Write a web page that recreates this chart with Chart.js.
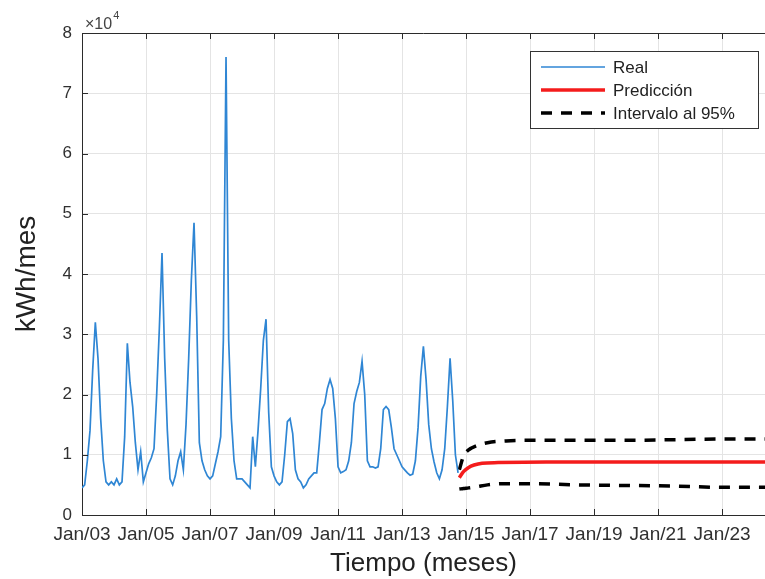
<!DOCTYPE html>
<html>
<head>
<meta charset="utf-8">
<title>Consumo kWh/mes</title>
<script src="https://cdn.jsdelivr.net/npm/chart.js@4.4.0/dist/chart.umd.min.js"></script>
<style>
    html, body { margin: 0; padding: 0; background: #fff; }
    #wrap { width: 765px; height: 579px; }
</style>
</head>
<body>
<div id="wrap"><canvas id="energyChart" width="765" height="579"></canvas></div>
<script>
// monthly consumption, first value = Jan 2003
const startYear = 2003;
const realKwh = [
    4500, 5000, 9000, 14000, 24000, 32000, 26000, 16000, 9000, 5500, 5000, 5500,
    5000, 6000, 5000, 5500, 13000, 28500, 22000, 18000, 12000, 7500, 10500, 5500,
    7000, 8500, 9500, 11000, 20000, 31000, 43500, 26000, 14000, 6000, 5000, 6500,
    9000, 10500, 7500, 15000, 26000, 39000, 48500, 33000, 12000, 9000, 7500, 6500,
    6000, 6500, 8500, 10500, 13000, 29000, 76000, 29000, 16000, 9000, 6000, 6000,
    6000, 5500, 5000, 4500, 13000, 8000, 14000, 21000, 29000, 32500, 17000, 8000,
    6500, 5500, 5000, 5500, 10000, 15500, 16000, 13500, 7500, 6000, 5500, 4500,
    5000, 6000, 6500, 7000, 7000, 12000, 17500, 18500, 21000, 22500, 21000, 16000,
    8000, 7000, 7200, 7500, 9000, 12000, 18500, 20500, 22000, 25500, 20000, 9000,
    8000, 8000, 7800, 8000, 11000, 17500, 18000, 17500, 14500, 11000, 10000, 9000,
    8000, 7500, 7000, 6600, 6800, 9000, 14500, 23000, 28000, 22500, 15000, 11000,
    8800, 7000, 6000, 7500, 11000, 18000, 26000, 19000, 10000, 7000
];

// forecast (x in years)
const predYears = [2014.79, 2014.92, 2015.08, 2015.25, 2015.5, 2016.0, 2017.5, 2019.5, 2021.5, 2023.5, 2024.4];
const predKwh   = [6200, 7200, 7900, 8300, 8600, 8700, 8800, 8800, 8800, 8800, 8800];

const bandYears = [2014.79, 2014.92, 2015.08, 2015.33, 2015.67, 2016.25, 2017.0, 2018.5, 2020.0, 2021.5, 2023.0, 2024.4];
const upperKwh  = [7500, 9800, 10800, 11500, 12000, 12300, 12400, 12400, 12400, 12500, 12600, 12600];
const lowerKwh  = [4300, 4400, 4500, 4700, 5000, 5200, 5200, 5000, 4900, 4800, 4600, 4600];

const xTickYears = [2003, 2005, 2007, 2009, 2011, 2013, 2015, 2017, 2019, 2021, 2023];
const yTickValues = [0, 10000, 20000, 30000, 40000, 50000, 60000, 70000, 80000];

Chart.defaults.font.family = "'Liberation Sans', Arial, sans-serif";

function pts(xs, ys) {
    return ys.map((v, i) => ({ x: xs[i], y: v }));
}

const axisColor = '#2b2b2b';

// box on top, inward ticks, x10^4 and the legend
const matlabFrame = {
    id: 'matlabFrame',
    afterDatasetsDraw(chart) {
        const ctx = chart.ctx;
        const a = chart.chartArea;
        const xs = chart.scales.x, ys = chart.scales.y;
        ctx.save();
        ctx.strokeStyle = axisColor;
        ctx.lineWidth = 1;
        ctx.beginPath();
        ctx.moveTo(a.left, a.top + 0.5);
        ctx.lineTo(a.right, a.top + 0.5);
        for (const t of xs.ticks) {
            const px = Math.round(xs.getPixelForValue(t.value)) + 0.5;
            ctx.moveTo(px, a.bottom); ctx.lineTo(px, a.bottom - 6);
            ctx.moveTo(px, a.top); ctx.lineTo(px, a.top + 6);
        }
        for (const t of ys.ticks) {
            const py = Math.round(ys.getPixelForValue(t.value)) + 0.5;
            ctx.moveTo(a.left, py); ctx.lineTo(a.left + 6, py);
        }
        ctx.stroke();

        // exponent
        ctx.fillStyle = '#444';
        ctx.textBaseline = 'alphabetic';
        ctx.font = "16px 'Liberation Sans', Arial, sans-serif";
        ctx.fillText('\u00d710', a.left + 3, a.top - 4);
        const w = ctx.measureText('\u00d710').width;
        ctx.font = "11px 'Liberation Sans', Arial, sans-serif";
        ctx.fillText('4', a.left + 4 + w, a.top - 14);

        // legend
        const bx = 530, by = 51, bw = 228, bh = 77;
        ctx.fillStyle = '#fff';
        ctx.fillRect(bx, by, bw, bh);
        ctx.strokeStyle = '#333';
        ctx.strokeRect(bx + 0.5, by + 0.5, bw, bh);
        const rows = [0, 1, 2];
        ctx.font = "17px 'Liberation Sans', Arial, sans-serif";
        ctx.textBaseline = 'middle';
        rows.forEach((di, r) => {
            const ds = chart.data.datasets[di];
            const y = by + 16 + r * 23;
            ctx.strokeStyle = ds.borderColor;
            ctx.lineWidth = ds.borderWidth;
            ctx.setLineDash(ds.borderDash || []);
            ctx.beginPath();
            ctx.moveTo(bx + 11, y);
            ctx.lineTo(bx + 75, y);
            ctx.stroke();
            ctx.setLineDash([]);
            ctx.fillStyle = '#222';
            ctx.fillText(ds.label, bx + 83, y + 1);
        });
        ctx.restore();
    }
};

const ctx = document.getElementById('energyChart').getContext('2d');
new Chart(ctx, {
    type: 'line',
    data: {
        datasets: [
            {
                label: 'Real',
                data: realKwh.map((v, i) => ({ x: startYear + i / 12, y: v })),
                borderColor: '#2f86d4',
                borderWidth: 1.7,
                pointRadius: 0,
                tension: 0
            },
            {
                label: 'Predicción',
                data: pts(predYears, predKwh),
                borderColor: '#f41c1c',
                borderWidth: 3.5,
                pointRadius: 0,
                cubicInterpolationMode: 'monotone'
            },
            {
                label: 'Intervalo al 95%',
                data: pts(bandYears, upperKwh),
                borderColor: '#000',
                borderWidth: 3.5,
                borderDash: [11, 9],
                pointRadius: 0,
                cubicInterpolationMode: 'monotone'
            },
            {
                label: 'Intervalo al 95% (inf)',
                data: pts(bandYears, lowerKwh),
                borderColor: '#000',
                borderWidth: 3.5,
                borderDash: [11, 9],
                pointRadius: 0,
                cubicInterpolationMode: 'monotone'
            }
        ]
    },
    options: {
        responsive: false,
        animation: false,
        events: [],
        layout: { padding: { top: 33, right: 0, bottom: 0, left: 0 } },
        plugins: { legend: { display: false }, tooltip: { enabled: false } },
        scales: {
            x: {
                type: 'linear',
                min: 2003,
                max: 2024.34,
                afterBuildTicks: axis => { axis.ticks = xTickYears.map(v => ({ value: v })); },
                afterFit: axis => { axis.height = 64; },
                ticks: {
                    callback: v => 'Jan/' + String(v % 100).padStart(2, '0'),
                    autoSkip: false,
                    maxRotation: 0,
                    padding: 8,
                    color: '#303030',
                    font: { size: 19 }
                },
                grid: { color: '#e4e4e4', drawTicks: false },
                border: { display: true, color: axisColor, width: 1 },
                title: {
                    display: true,
                    text: 'Tiempo (meses)',
                    color: '#222',
                    font: { size: 26 },
                    padding: { top: 0, bottom: 0 }
                }
            },
            y: {
                min: 0,
                max: 80000,
                afterBuildTicks: axis => { axis.ticks = yTickValues.map(v => ({ value: v })); },
                afterFit: axis => { axis.width = 82; },
                ticks: {
                    callback: v => v / 10000,
                    padding: 10,
                    color: '#303030',
                    font: { size: 17 }
                },
                grid: { color: '#e4e4e4', drawTicks: false },
                border: { display: true, color: axisColor, width: 1 },
                title: {
                    display: true,
                    text: 'kWh/mes',
                    color: '#222',
                    font: { size: 28 },
                    padding: { top: 10, bottom: 0 }
                }
            }
        }
    },
    plugins: [matlabFrame]
});
</script>
</body>
</html>
